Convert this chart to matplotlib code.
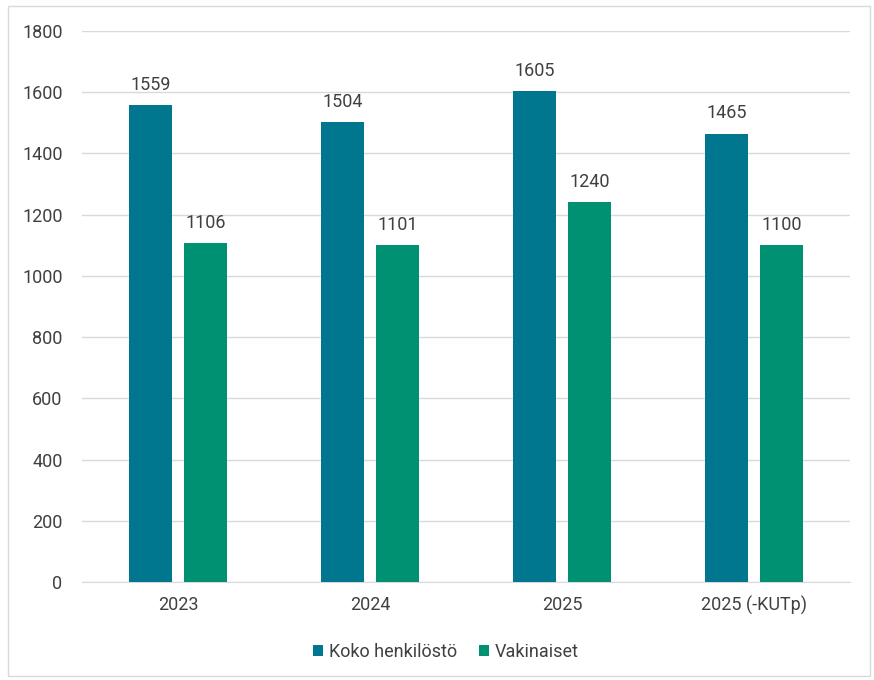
import numpy as np
import matplotlib.pyplot as plt
from matplotlib.patches import Rectangle

categories = ["2023", "2024", "2025", "2025 (-KUTp)"]
koko = [1559, 1504, 1605, 1465]
vakinaiset = [1106, 1101, 1240, 1100]
yticks = [0, 200, 400, 600, 800, 1000, 1200, 1400, 1600, 1800]

plt.rcParams['font.family'] = ['Roboto', 'DejaVu Sans']
text_color = '#404040'
fs = 13

fig = plt.figure(figsize=(8.74, 6.8), dpi=100)
ax = fig.add_axes([0.0938, 0.1441, 0.8787, 0.8103])

x = np.arange(len(categories))
w = 0.224
off = 0.143
b1 = ax.bar(x - off, koko, w, color='#00778F', label='Koko henkilöstö', zorder=3)
b2 = ax.bar(x + off, vakinaiset, w, color='#009072', label='Vakinaiset', zorder=3)

for bars in (b1, b2):
    for r in bars:
        ax.annotate(f"{int(r.get_height())}", (r.get_x() + r.get_width() / 2, r.get_height()),
                    xytext=(0, 8), textcoords='offset points', ha='center', va='bottom',
                    fontsize=fs, color=text_color)

ax.set_xlim(-0.5, len(categories) - 0.5)
ax.set_ylim(0, 1800)
ax.set_yticks(yticks)
ax.set_xticks(x)
ax.set_xticklabels(categories)
ax.tick_params(axis='both', length=0, labelsize=fs, labelcolor=text_color)
ax.tick_params(axis='y', pad=14)
ax.tick_params(axis='x', pad=10)
ax.grid(axis='y', color='#d9d9d9', linewidth=1, zorder=0)
for s in ['top', 'right', 'left']:
    ax.spines[s].set_visible(False)
ax.spines['bottom'].set_color('#d9d9d9')

leg = fig.legend(handles=[b1, b2], loc='center', bbox_to_anchor=(0.51, 0.041), ncol=2, frameon=False,
                 fontsize=fs, handlelength=0.6, handleheight=0.6, handletextpad=0.3,
                 columnspacing=1.2)
for t in leg.get_texts():
    t.set_color(text_color)

fig.patches.append(Rectangle((8 / 874, 4 / 680), 862 / 874, 670 / 680, transform=fig.transFigure,
                             fill=False, edgecolor='#d9d9d9', linewidth=1))

fig.savefig('out.png', dpi=100)
